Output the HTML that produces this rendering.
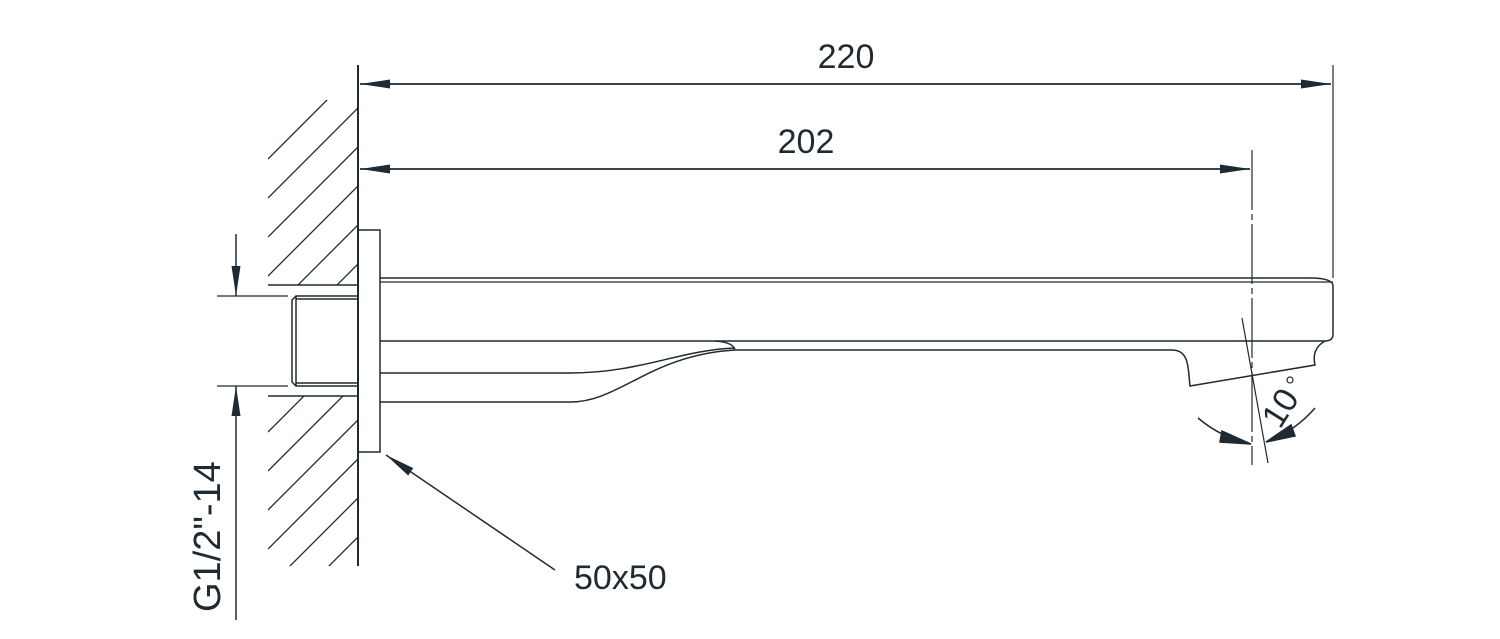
<!DOCTYPE html>
<html><head><style>html,body{margin:0;padding:0;background:#fff}svg{display:block}</style></head><body>
<svg width="1500" height="639" viewBox="0 0 1500 639" xmlns="http://www.w3.org/2000/svg" font-family="Liberation Sans, sans-serif">
<defs>
<clipPath id="h1"><rect x="268" y="100" width="90" height="185"/><rect x="268" y="396" width="90" height="170"/></clipPath>
<marker id="ar" viewBox="0 0 30 10" refX="30" refY="5" markerWidth="30" markerHeight="10" markerUnits="userSpaceOnUse" orient="auto"><path d="M0,0.5 L30,5 L0,9.5Z" fill="#1f2a33"/></marker>
</defs>
<g stroke="#1f2a33" fill="none" stroke-width="1.5">
<g clip-path="url(#h1)" stroke-width="1.3">
<path d="M268,159 l90,-90 M268,198 l90,-90 M268,237 l90,-90 M268,276 l90,-90 M268,315 l90,-90 M268,354 l90,-90 M268,393 l90,-90 M268,432 l90,-90 M268,471 l90,-90 M268,510 l90,-90 M268,549 l90,-90 M268,588 l90,-90 M268,627 l90,-90 M268,666 l90,-90"/>
</g>
<line x1="358" y1="65" x2="358" y2="566" stroke-width="2"/>
<line x1="268" y1="285" x2="358" y2="285"/>
<line x1="268" y1="396" x2="358" y2="396"/>
<path d="M358,296 L296,296 L292,300 L292,382 L296,386 L358,386 M296,296 L296,386 M296,299 L358,299 M296,383 L358,383"/>
<rect x="358" y="230" width="22" height="222"/>
<path d="M380,278 L1310,278 Q1333,278 1333,286 L1333,334 Q1333,341 1325,341 L380,341"/>
<line x1="380" y1="282" x2="1333" y2="282" stroke-width="1.2"/>
<path d="M380,373 L570,373 C640,373 680,350 735,348"/>
<path d="M380,402 L570,402 C620,402 650,355 735,350 L1172,350 C1190,350 1188,370 1190,386 L1315,365 C1312,352 1318,345 1325,341"/>
<path d="M715,341 Q733,342 735,350"/>
<line x1="217" y1="296" x2="288" y2="296" stroke-width="1.2"/>
<line x1="217" y1="386" x2="288" y2="386" stroke-width="1.2"/>
<line x1="236" y1="234" x2="236" y2="296" marker-end="url(#ar)"/>
<line x1="236" y1="620" x2="236" y2="386" marker-end="url(#ar)"/>
<line x1="1333" y1="65" x2="1333" y2="278" stroke-width="1.2"/>
<line x1="360" y1="84" x2="1331" y2="84" marker-end="url(#ar)"/>
<line x1="1331" y1="84" x2="360" y2="84" marker-end="url(#ar)"/>
<line x1="1252" y1="150" x2="1252" y2="465" stroke-width="1.2" stroke-dasharray="60,4,6,4"/>
<line x1="360" y1="169" x2="1250" y2="169" marker-end="url(#ar)"/>
<line x1="1250" y1="169" x2="360" y2="169" marker-end="url(#ar)"/>
<line x1="1242" y1="318" x2="1268" y2="463" stroke-width="1.2"/>
<path d="M1198,418 A120,120 0 0 0 1251,444"/>
<path d="M1315,408 A120,120 0 0 1 1266,442"/>
<path d="M1222,431 L1251,444 L1220,442Z" fill="#1f2a33"/>
<path d="M1291,425 L1266,442 L1295,436Z" fill="#1f2a33"/>
<line x1="555" y1="570" x2="386" y2="455" marker-end="url(#ar)"/>
</g>
<g fill="#1f2a33" font-size="34">
<text x="846" y="68" text-anchor="middle">220</text>
<text x="806" y="153" text-anchor="middle">202</text>
<text x="574" y="589">50x50</text>
<text transform="translate(220,612) rotate(-90)" font-size="38">G1/2"-14</text>
<text transform="translate(1280,430) rotate(-58)">10</text>
</g>
<circle cx="1290" cy="380" r="3" fill="none" stroke="#1f2a33" stroke-width="1.2"/>
</svg>
</body></html>
